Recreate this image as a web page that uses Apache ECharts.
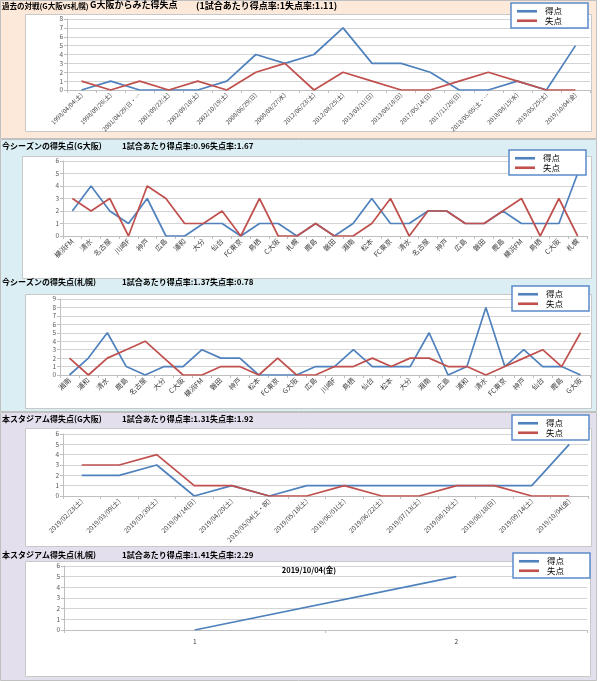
<!DOCTYPE html>
<html><head><meta charset="utf-8">
<script src="https://cdn.jsdelivr.net/npm/echarts@6/dist/echarts.min.js"></script>
<style>html,body{margin:0;padding:0;background:#fff}#c{width:600px;height:681px}</style>
</head><body><div id="c"></div>
<script>
// ---- data ----
const p1Cats = ['1998/04/04(土)','1998/09/26(土)','2001/04/29(日・…','2001/09/22(土)','2002/08/10(土)','2002/10/19(土)','2008/06/29(日)','2008/08/27(水)','2012/06/23(土)','2012/08/25(土)','2013/03/31(日)','2013/08/18(日)','2017/05/14(日)','2017/11/26(日)','2018/05/05(土・…','2018/08/15(水)','2019/05/25(土)','2019/10/04(金)'];
const p1Score = [0,1,0,0,0,1,4,3,4,7,3,3,2,0,0,1,0,5];
const p1Lost  = [1,0,1,0,1,0,2,3,0,2,1,0,0,1,2,1,0,0];

const p2Cats = ['横浜FM','清水','名古屋','川崎F','神戸','広島','浦和','大分','仙台','FC東京','鳥栖','C大阪','札幌','鹿島','磐田','湘南','松本','FC東京','清水','名古屋','神戸','広島','磐田','鹿島','横浜FM','鳥栖','C大阪','札幌'];
const p2Score = [2,4,2,1,3,0,0,1,1,0,1,1,0,1,0,1,3,1,1,2,2,1,1,2,1,1,1,5];
const p2Lost  = [3,2,3,0,4,3,1,1,2,0,3,0,0,1,0,0,1,3,0,2,2,1,1,2,3,0,3,0];

const p3Cats = ['湘南','浦和','清水','鹿島','名古屋','大分','C大阪','横浜FM','磐田','神戸','松本','FC東京','G大阪','広島','川崎F','鳥栖','仙台','松本','大分','湘南','広島','浦和','清水','FC東京','神戸','仙台','鹿島','G大阪'];
const p3Score = [0,2,5,1,0,1,1,3,2,2,0,0,0,1,1,3,1,1,1,5,0,1,8,1,3,1,1,0];
const p3Lost  = [2,0,2,3,4,2,0,0,1,1,0,2,0,0,1,1,2,1,2,2,1,1,0,1,2,3,1,5];

const p4Cats = ['2019/02/23(土)','2019/03/09(土)','2019/03/30(土)','2019/04/14(日)','2019/04/20(土)','2019/05/04(土・祝)','2019/05/18(土)','2019/06/01(土)','2019/06/22(土)','2019/07/13(土)','2019/08/10(土)','2019/08/18(日)','2019/09/14(土)','2019/10/04(金)'];
const p4Score = [2,2,3,0,1,0,1,1,1,1,1,1,1,5];
const p4Lost  = [3,3,4,1,1,0,0,1,0,0,1,1,0,0];

const p5Cats = ['1','2'];
const p5Score = [0,5];
const p5Lost  = [null,null];

const titlesA = ['過去の対戦(G大阪vs札幌)','今シーズンの得失点(G大阪)','今シーズンの得失点(札幌)','本スタジアム得失点(G大阪)','本スタジアム得失点(札幌)'];
const titlesB = ['(1試合あたり得点率:1失点率:1.11)','1試合あたり得点率:0.96失点率:1.67','1試合あたり得点率:1.37失点率:0.78','1試合あたり得点率:1.31失点率:1.92','1試合あたり得点率:1.41失点率:2.29'];
const p1Sub = 'G大阪からみた得失点';
const p5ChartTitle = '2019/10/04(金)';
const seriesNames = ['得点','失点'];

// ---- layout ----
const FONT = '"Noto Sans CJK JP","Noto Sans",sans-serif';
const BLUE = '#4f81bd', RED = '#c0504d';
const panels = [
  {cats:p1Cats, s:p1Score, l:p1Lost, grid:{left:67, top:19, width:523, height:71}, max:8, lab:6, rot:45},
  {cats:p2Cats, s:p2Score, l:p2Lost, grid:{left:63, top:161, width:524, height:75}, max:6, lab:7, rot:45},
  {cats:p3Cats, s:p3Score, l:p3Lost, grid:{left:60, top:299, width:530, height:76}, max:9, lab:7, rot:45},
  {cats:p4Cats, s:p4Score, l:p4Lost, grid:{left:63, top:434, width:525, height:62}, max:6, lab:6.5, rot:45},
  {cats:p5Cats, s:p5Score, l:p5Lost, grid:{left:64, top:566, width:523, height:64}, max:6, lab:6.5, rot:0}
];
const legendPos = [[511,3],[509,150],[512,286],[512,415],[513,553]];
const titleTop = [1,142,278,415,551];
const titleASize = [7.5,8,8,8,8];
const titleBSize = [9,8,8,8,8];
const titleBLeft = [196,122,122,122,122];
const LEG_ICON = 'path://M0,0H20V2.6H0Z';

const grids=[], xAxes=[], yAxes=[], series=[], legends=[], titles=[];
panels.forEach((p,i)=>{
  grids.push(Object.assign({containLabel:false}, p.grid));
  xAxes.push({type:'category', gridIndex:i, data:p.cats, boundaryGap:true,
    axisLine:{lineStyle:{color:'#bfbfbf'}},
    axisTick:{show:true, length:3, interval:0, lineStyle:{color:'#bfbfbf'}},
    axisLabel:{interval:0, rotate:p.rot, fontSize:p.lab, color:'#404040', margin:p.rot?4:8, fontFamily:FONT}});
  yAxes.push({type:'value', gridIndex:i, min:0, max:p.max, interval:1,
    axisLine:{show:true, lineStyle:{color:'#bfbfbf'}},
    axisTick:{show:true, length:3, lineStyle:{color:'#bfbfbf'}},
    axisLabel:{fontSize:6.5, color:'#595959', margin:4, fontFamily:FONT},
    splitLine:{lineStyle:{color:'#d4d4d4', width:1}}});
  series.push({name:seriesNames[0], type:'line', xAxisIndex:i, yAxisIndex:i, data:p.s, symbol:'none',
    lineStyle:{color:BLUE, width:1.7}, itemStyle:{color:BLUE}, z:2});
  series.push({name:seriesNames[1], type:'line', xAxisIndex:i, yAxisIndex:i, data:p.l, symbol:'none',
    lineStyle:{color:RED, width:1.7}, itemStyle:{color:RED}, z:3});
  legends.push({left:legendPos[i][0], top:legendPos[i][1], orient:'vertical',
    data:[{name:seriesNames[0], icon:LEG_ICON, itemStyle:{color:BLUE}}, {name:seriesNames[1], icon:LEG_ICON, itemStyle:{color:RED}}],
    backgroundColor:'#fff', borderColor:'#5b8bc9', borderWidth:1.5, borderRadius:0,
    padding:[4,26,3,6], itemWidth:20, itemHeight:10, itemGap:1, selectedMode:false,
    textStyle:{fontSize:8.5, color:'#000', fontFamily:FONT, padding:[0,0,0,3]}});
  titles.push({text:titlesA[i], left:2, top:titleTop[i] + (i===0?1:0), padding:0,
    textStyle:{fontSize:titleASize[i], fontWeight:'bold', color:'#000', fontFamily:FONT}});
  titles.push({text:titlesB[i], left:titleBLeft[i], top:titleTop[i], padding:0,
    textStyle:{fontSize:titleBSize[i], fontWeight:'bold', color:'#000', fontFamily:FONT}});
});
titles.push({text:p1Sub, left:90, top:0.5, padding:0,
  textStyle:{fontSize:9, fontWeight:'bold', color:'#000', fontFamily:FONT}});

function rect(x,y,w,h,fill,stroke){
  return {type:'rect', silent:true, z:-10, shape:{x:x,y:y,width:w,height:h},
    style:{fill:fill, stroke:stroke||'#bfbfbf', lineWidth:1}};
}
const graphic = [
  rect(0.5,0.5,596,138,'#fde9d9','#c0c0c0'),
  rect(0.5,139.5,596,272,'#daeef3','#c0c0c0'),
  rect(0.5,412.5,596,268,'#e4dfec','#c0c0c0'),
  rect(25.5,14.5,566,117,'#fff','#c8c8c8'),
  rect(22.5,156.5,569,122,'#fff','#c8c8c8'),
  rect(25.5,294.5,566,114,'#fff','#c8c8c8'),
  rect(25.5,428.5,566,118,'#fff','#c8c8c8'),
  rect(25.5,561.5,565,115,'#fff','#c8c8c8'),
  {type:'text', silent:true, z:5, x:309, y:570,
   style:{text:p5ChartTitle, align:'center', verticalAlign:'middle', fontSize:7.5, fontWeight:'bold', fill:'#000', fontFamily:FONT}}
];

const chart = echarts.init(document.getElementById('c'), null, {renderer:'canvas'});
chart.setOption({animation:false, title:titles, legend:legends, grid:grids, xAxis:xAxes, yAxis:yAxes, series:series, graphic:graphic});
</script></body></html>
